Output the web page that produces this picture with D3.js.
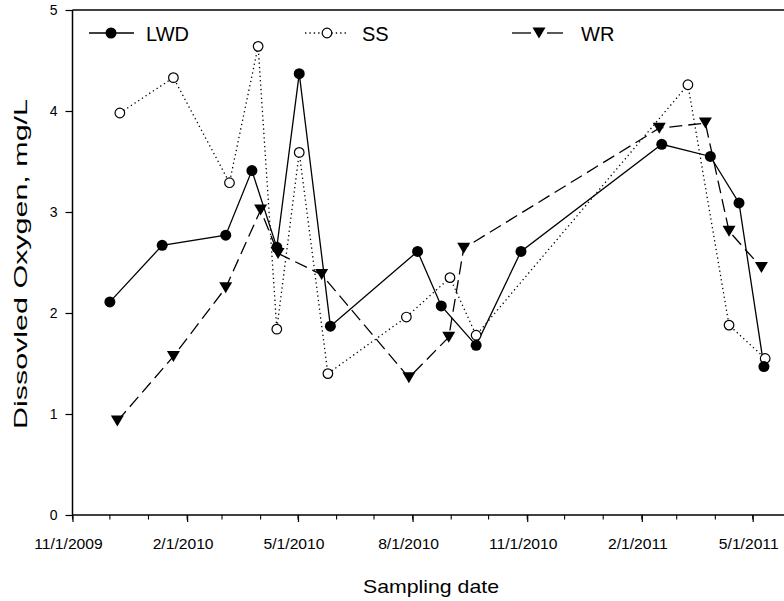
<!DOCTYPE html>
<html>
<head>
<meta charset="utf-8">
<script src="https://cdn.jsdelivr.net/npm/d3@7"></script>
<style>
  html, body { margin: 0; padding: 0; background: #fff; }
  svg { display: block; font-family: Arial, "Liberation Sans", sans-serif; }
</style>
</head>
<body>
<svg id="chart" width="784" height="601"></svg>
<script>
// Dissolved oxygen at three sites, by sampling date
const lwdDates = ["2009-12-01","2010-01-12","2010-03-04","2010-03-25","2010-04-14","2010-05-02","2010-05-27","2010-08-05","2010-08-24","2010-09-21","2010-10-27","2011-02-17","2011-03-28","2011-04-20","2011-05-10"];
const lwdValues = [2.11, 2.67, 2.77, 3.41, 2.65, 4.37, 1.87, 2.61, 2.07, 1.68, 2.61, 3.67, 3.55, 3.09, 1.47];

const ssDates = ["2009-12-09","2010-01-21","2010-03-07","2010-03-30","2010-04-14","2010-05-02","2010-05-25","2010-07-27","2010-08-31","2010-09-21","2011-03-10","2011-04-12","2011-05-11"];
const ssValues = [3.98, 4.33, 3.29, 4.64, 1.84, 3.59, 1.40, 1.96, 2.35, 1.78, 4.26, 1.88, 1.55];

const wrDates = ["2009-12-07","2010-01-21","2010-03-04","2010-04-01","2010-04-15","2010-05-20","2010-07-29","2010-08-30","2010-09-11","2011-02-15","2011-03-24","2011-04-12","2011-05-08"];
const wrValues = [0.93, 1.57, 2.25, 3.02, 2.59, 2.38, 1.36, 1.76, 2.64, 3.83, 3.88, 2.81, 2.45];

const xTickDates = ["2009-11-01","2010-02-01","2010-05-01","2010-08-01","2010-11-01","2011-02-01","2011-05-01"];
const xTickLabels = ["11/1/2009","2/1/2010","5/1/2010","8/1/2010","11/1/2010","2/1/2011","5/1/2011"];
const yTicks = [0, 1, 2, 3, 4, 5];
const seriesNames = ["LWD", "SS", "WR"];

const parse = d3.utcParse("%Y-%m-%d");
const svg = d3.select("#chart");
const FONT = "Arial, 'Liberation Sans', sans-serif";

const plotLeft = 72.5, plotTop = 10, plotBottom = 515;
const x = d3.scaleUtc()
  .domain([parse("2009-11-01"), parse("2011-06-01")])
  .range([plotLeft, plotLeft + 577 * 1.2458]);
const y = d3.scaleLinear().domain([0, 5]).range([plotBottom, plotTop]);

// frame: top border
svg.append("line")
  .attr("x1", plotLeft).attr("x2", 800).attr("y1", plotTop).attr("y2", plotTop)
  .attr("stroke", "#000").attr("stroke-width", 1.5);

// minor monthly ticks
const months = d3.utcMonth.range(parse("2009-11-01"), parse("2011-06-02"));
svg.append("g").selectAll("line").data(months).join("line")
  .attr("x1", d => x(d)).attr("x2", d => x(d))
  .attr("y1", plotBottom).attr("y2", plotBottom + 4.5)
  .attr("stroke", "#000").attr("stroke-width", 1.1);

// x axis
const xAxis = svg.append("g").attr("transform", `translate(0,${plotBottom})`)
  .call(d3.axisBottom(x)
    .tickValues(xTickDates.map(parse))
    .tickFormat((d, i) => xTickLabels[i])
    .tickSize(7).tickPadding(17));
xAxis.select(".domain").attr("d", `M${plotLeft},0H800`).attr("stroke-width", 1.5);
xAxis.selectAll(".tick line").attr("stroke-width", 1.2);
xAxis.selectAll("text").attr("font-size", 14.5).attr("fill", "#000")
  .attr("font-family", FONT)
  .attr("transform", "translate(-4.5,0) scale(1.08,1)");

// y axis
const yAxis = svg.append("g").attr("transform", `translate(${plotLeft},0)`)
  .call(d3.axisLeft(y).tickValues(yTicks).tickFormat(d3.format("d"))
    .tickSize(7).tickPadding(8));
yAxis.select(".domain").attr("d", `M0,${plotTop}V${plotBottom}`).attr("stroke-width", 1.5);
yAxis.selectAll(".tick line").attr("stroke-width", 1.2);
yAxis.selectAll("text").attr("font-size", 14).attr("fill", "#000")
  .attr("font-family", FONT);

// axis titles
svg.append("text").attr("x", 431 - 68).attr("y", 593)
  .attr("font-size", 19)
  .attr("textLength", 136).attr("lengthAdjust", "spacingAndGlyphs")
  .text("Sampling date");
svg.append("text")
  .attr("transform", "translate(27,264) rotate(-90)")
  .attr("x", -165)
  .attr("font-size", 18)
  .attr("textLength", 330).attr("lengthAdjust", "spacingAndGlyphs")
  .text("Dissovled Oxygen, mg/L");

const line = d3.line().x(d => x(d.date)).y(d => y(d.value));
const toPoints = (dates, values) => dates.map((d, i) => ({ date: parse(d), value: values[i] }));

const lwd = toPoints(lwdDates, lwdValues);
const ss = toPoints(ssDates, ssValues);
const wr = toPoints(wrDates, wrValues);

const styles = {
  LWD: { dash: null, width: 1.3 },
  SS: { dash: "1.3,3.1", width: 1.3 },
  WR: { dash: "13,6", width: 1.3 }
};

// downward-pointing triangle centred on its point
const triDown = "M-6.5,-5.5L6.5,-5.5L0,5.5Z";

function drawSeries(pts, name) {
  const st = styles[name];
  svg.append("path").datum(pts)
    .attr("d", line).attr("fill", "none").attr("stroke", "#000")
    .attr("stroke-width", st.width)
    .attr("stroke-dasharray", st.dash);
}

function drawMarkers(pts, name) {
  const g = svg.append("g");
  if (name === "LWD") {
    g.selectAll("circle").data(pts).join("circle")
      .attr("cx", d => x(d.date)).attr("cy", d => y(d.value)).attr("r", 5.5)
      .attr("fill", "#000");
  } else if (name === "SS") {
    g.selectAll("circle").data(pts).join("circle")
      .attr("cx", d => x(d.date)).attr("cy", d => y(d.value)).attr("r", 4.8)
      .attr("fill", "#fff").attr("stroke", "#000").attr("stroke-width", 1.2);
  } else {
    g.selectAll("path").data(pts).join("path")
      .attr("d", triDown)
      .attr("transform", d => `translate(${x(d.date)},${y(d.value)})`)
      .attr("fill", "#000");
  }
}

drawSeries(ss, "SS");
drawSeries(wr, "WR");
drawSeries(lwd, "LWD");
drawMarkers(ss, "SS");
drawMarkers(wr, "WR");
drawMarkers(lwd, "LWD");

// legend
const legendY = 33;
const legendItems = [
  { name: seriesNames[0], x1: 89, x2: 134, mx: 111, text: 146 },
  { name: seriesNames[1], x1: 305, x2: 348, mx: 327, text: 362 },
  { name: seriesNames[2], x1: 512, x2: 563, mx: 539, text: 581 }
];
legendItems.forEach(it => {
  const st = styles[it.name];
  if (it.name === "WR") {
    [[it.x1, it.mx - 8], [it.mx + 8, it.x2]].forEach(([a, b]) => {
      svg.append("line")
        .attr("x1", a).attr("x2", b).attr("y1", legendY).attr("y2", legendY)
        .attr("stroke", "#000").attr("stroke-width", st.width);
    });
  } else {
    svg.append("line")
      .attr("x1", it.x1).attr("x2", it.x2).attr("y1", legendY).attr("y2", legendY)
      .attr("stroke", "#000").attr("stroke-width", st.width)
      .attr("stroke-dasharray", st.dash);
  }
  if (it.name === "LWD") {
    svg.append("circle").attr("cx", it.mx).attr("cy", legendY).attr("r", 5.5).attr("fill", "#000");
  } else if (it.name === "SS") {
    svg.append("circle").attr("cx", it.mx).attr("cy", legendY).attr("r", 4.8)
      .attr("fill", "#fff").attr("stroke", "#000").attr("stroke-width", 1.2);
  } else {
    svg.append("path").attr("d", triDown)
      .attr("transform", `translate(${it.mx},${legendY})`).attr("fill", "#000");
  }
  svg.append("text").attr("x", it.text).attr("y", legendY + 8)
    .attr("font-size", 20).text(it.name);
});
</script>
</body>
</html>
